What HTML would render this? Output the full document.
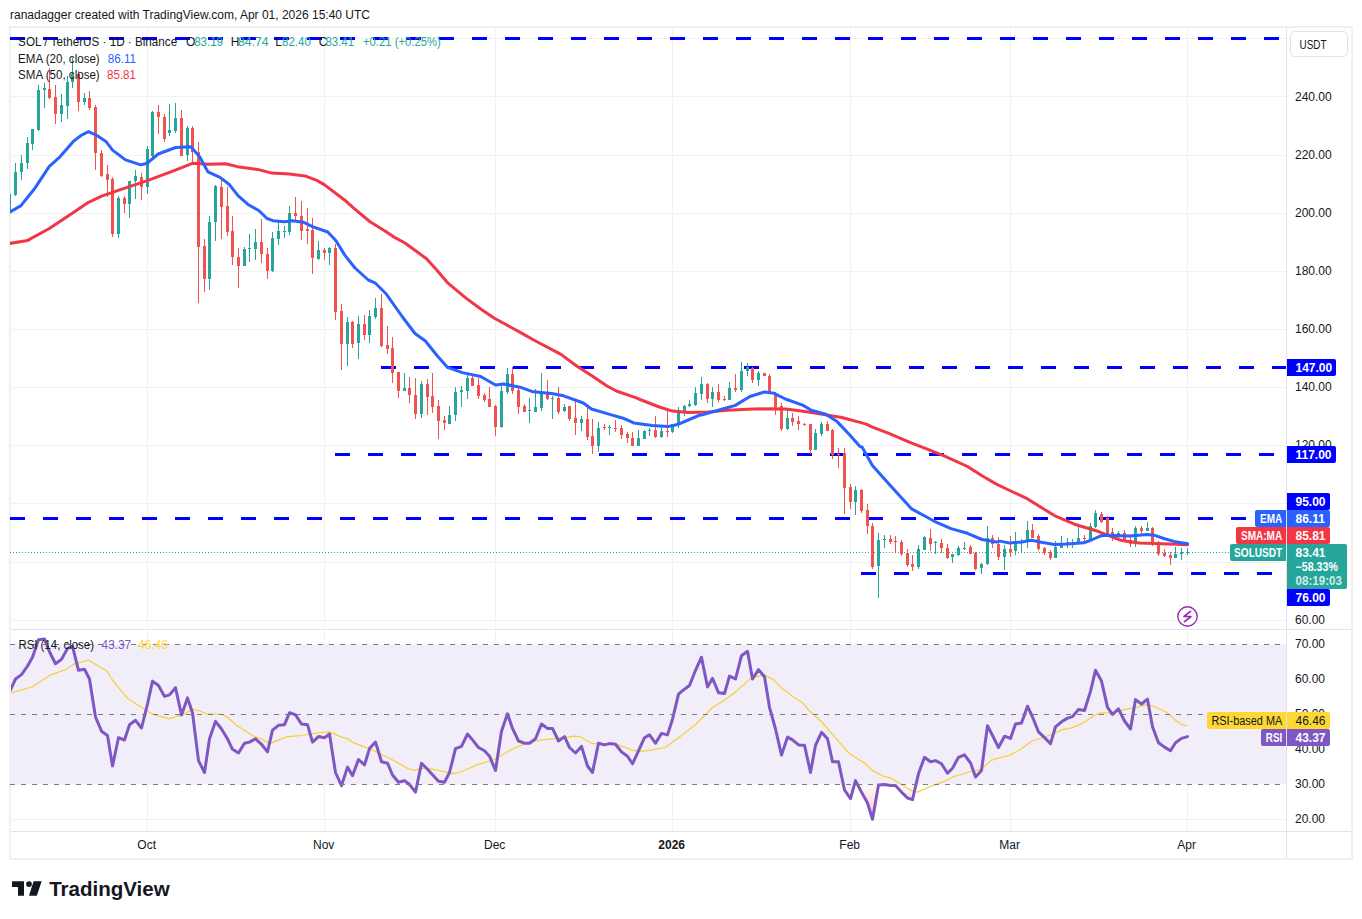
<!DOCTYPE html><html><head><meta charset="utf-8"><style>html,body{margin:0;padding:0;background:#fff;}body{width:1362px;height:919px;overflow:hidden;position:relative;}svg text{font-family:"Liberation Sans",sans-serif;}</style></head><body>
<svg width="1362" height="919" viewBox="0 0 1362 919" style="position:absolute;left:0;top:0">
<defs><clipPath id="main"><rect x="10" y="28" width="1276" height="601"/></clipPath><clipPath id="rsi"><rect x="11" y="630" width="1275" height="201"/></clipPath><clipPath id="below30"><rect x="10" y="784.4" width="1276" height="50"/></clipPath><linearGradient id="osg" gradientUnits="userSpaceOnUse" x1="0" y1="784.4" x2="0" y2="819.4"><stop offset="0" stop-color="#ff5252" stop-opacity="0.03"/><stop offset="1" stop-color="#ff5252" stop-opacity="0.32"/></linearGradient></defs>
<text x="10" y="19" font-size="12" fill="#131722">ranadagger created with TradingView.com, Apr 01, 2026 15:40 UTC</text>
<rect x="10" y="644.4" width="1276" height="140" fill="#7e57c2" fill-opacity="0.1"/>
<path d="M10 620.5H1286M10 562.5H1286M10 503.5H1286M10 445.5H1286M10 387.5H1286M10 329.5H1286M10 271.5H1286M10 213.5H1286M10 155.5H1286M10 96.5H1286M10 38.5H1286M10 679.5H1286M10 749.5H1286M10 819.5H1286M147.5 27V630M147.5 631V831M324.5 27V630M324.5 631V831M495.5 27V630M495.5 631V831M672.5 27V630M672.5 631V831M850.5 27V630M850.5 631V831M1010.5 27V630M1010.5 631V831M1187.5 27V630M1187.5 631V831" stroke="#eff2f1" stroke-width="1" fill="none"/>
<path d="M10 27H1352V859H10Z" stroke="#f0f0f0" stroke-width="2" fill="none"/>
<path d="M1286.5 28V858 M11 629.5H1351 M11 831.5H1351" stroke="#e0e3eb" stroke-width="1" fill="none"/>
<path d="M10 38.5H1286" stroke="#0000ff" stroke-width="3" stroke-dasharray="15 18" fill="none" clip-path="url(#main)"/>
<path d="M381 367.5H1286" stroke="#0000ff" stroke-width="3" stroke-dasharray="15 18" fill="none" clip-path="url(#main)"/>
<path d="M335 454.5H1286" stroke="#0000ff" stroke-width="3" stroke-dasharray="15 18" fill="none" clip-path="url(#main)"/>
<path d="M10 518.5H1286" stroke="#0000ff" stroke-width="3" stroke-dasharray="15 18" fill="none" clip-path="url(#main)"/>
<path d="M861 573.5H1286" stroke="#0000ff" stroke-width="3" stroke-dasharray="15 18" fill="none" clip-path="url(#main)"/>
<path d="M10 552.5H1230" stroke="#26a69a" stroke-width="1" stroke-dasharray="1 2" fill="none"/>
<g clip-path="url(#main)"><path d="M8 194h3v19h-3ZM9 194h1v19h-1ZM14 172h3v23h-3ZM15 163h1v33h-1ZM20 163h3v9h-3ZM21 155h1v25h-1ZM26 143h3v20h-3ZM27 137h1v32h-1ZM31 129h3v15h-3ZM32 129h1v21h-1ZM37 90h3v40h-3ZM38 85h1v46h-1ZM43 88h3v2h-3ZM44 83h1v25h-1ZM60 105h3v9h-3ZM61 94h1v28h-1ZM66 82h3v24h-3ZM67 76h1v43h-1ZM71 74h3v8h-3ZM72 58h1v30h-1ZM83 98h3v4h-3ZM84 93h1v12h-1ZM117 198h3v36h-3ZM118 196h1v42h-1ZM128 181h3v23h-3ZM129 181h1v37h-1ZM134 176h3v5h-3ZM135 170h1v29h-1ZM146 149h3v38h-3ZM147 146h1v48h-1ZM151 112h3v44h-3ZM152 111h1v46h-1ZM168 130h3v3h-3ZM169 104h1v32h-1ZM174 118h3v13h-3ZM175 103h1v30h-1ZM186 128h3v27h-3ZM187 126h1v35h-1ZM208 222h3v57h-3ZM209 216h1v74h-1ZM214 186h3v36h-3ZM215 185h1v56h-1ZM243 249h3v17h-3ZM244 247h1v19h-1ZM248 248h3v1h-3ZM249 234h1v28h-1ZM254 242h3v7h-3ZM255 229h1v31h-1ZM271 238h3v33h-3ZM272 232h1v40h-1ZM277 231h3v8h-3ZM278 221h1v24h-1ZM283 231h3v1h-3ZM284 226h1v12h-1ZM288 213h3v19h-3ZM289 206h1v29h-1ZM317 250h3v9h-3ZM318 241h1v19h-1ZM328 248h3v5h-3ZM329 247h1v18h-1ZM346 322h3v22h-3ZM347 317h1v49h-1ZM357 324h3v19h-3ZM358 316h1v43h-1ZM368 316h3v19h-3ZM369 310h1v33h-1ZM374 308h3v9h-3ZM375 298h1v21h-1ZM403 388h3v3h-3ZM404 373h1v18h-1ZM420 384h3v30h-3ZM421 381h1v37h-1ZM448 415h3v9h-3ZM449 406h1v18h-1ZM454 392h3v23h-3ZM455 387h1v34h-1ZM460 390h3v2h-3ZM461 386h1v21h-1ZM466 378h3v13h-3ZM467 374h1v25h-1ZM500 391h3v36h-3ZM501 386h1v42h-1ZM506 374h3v18h-3ZM507 368h1v26h-1ZM528 410h3v1h-3ZM529 398h1v25h-1ZM534 407h3v5h-3ZM535 389h1v23h-1ZM540 392h3v16h-3ZM541 373h1v38h-1ZM551 398h3v1h-3ZM552 396h1v23h-1ZM563 407h3v4h-3ZM564 404h1v8h-1ZM580 419h3v4h-3ZM581 416h1v15h-1ZM597 428h3v18h-3ZM598 422h1v30h-1ZM608 427h3v1h-3ZM609 425h1v10h-1ZM637 438h3v8h-3ZM638 430h1v16h-1ZM643 431h3v8h-3ZM644 430h1v9h-1ZM648 430h3v1h-3ZM649 428h1v8h-1ZM660 431h3v6h-3ZM661 426h1v12h-1ZM671 424h3v8h-3ZM672 424h1v9h-1ZM677 410h3v15h-3ZM678 407h1v21h-1ZM683 406h3v6h-3ZM684 405h1v11h-1ZM688 404h3v2h-3ZM689 400h1v7h-1ZM694 393h3v12h-3ZM695 387h1v19h-1ZM700 384h3v10h-3ZM701 377h1v23h-1ZM711 392h3v7h-3ZM712 387h1v20h-1ZM728 388h3v12h-3ZM729 382h1v18h-1ZM740 371h3v19h-3ZM741 362h1v30h-1ZM746 367h3v4h-3ZM747 363h1v13h-1ZM757 373h3v7h-3ZM758 371h1v15h-1ZM786 418h3v11h-3ZM787 410h1v20h-1ZM814 433h3v17h-3ZM815 429h1v21h-1ZM820 424h3v10h-3ZM821 422h1v14h-1ZM854 490h3v12h-3ZM855 486h1v29h-1ZM877 540h3v26h-3ZM878 533h1v65h-1ZM883 539h3v1h-3ZM884 535h1v13h-1ZM917 549h3v18h-3ZM918 545h1v24h-1ZM923 537h3v13h-3ZM924 536h1v14h-1ZM934 542h3v1h-3ZM935 541h1v13h-1ZM951 554h3v3h-3ZM952 554h1v9h-1ZM957 548h3v7h-3ZM958 546h1v10h-1ZM963 548h3v1h-3ZM964 542h1v8h-1ZM980 564h3v4h-3ZM981 563h1v11h-1ZM986 538h3v26h-3ZM987 526h1v39h-1ZM1003 549h3v8h-3ZM1004 545h1v25h-1ZM1014 542h3v9h-3ZM1015 532h1v23h-1ZM1020 542h3v1h-3ZM1021 539h1v13h-1ZM1026 530h3v12h-3ZM1027 521h1v27h-1ZM1054 547h3v11h-3ZM1055 541h1v17h-1ZM1060 543h3v5h-3ZM1061 536h1v12h-1ZM1066 542h3v2h-3ZM1067 538h1v10h-1ZM1071 543h3v1h-3ZM1072 539h1v9h-1ZM1077 538h3v5h-3ZM1078 524h1v19h-1ZM1089 526h3v13h-3ZM1090 523h1v17h-1ZM1094 513h3v14h-3ZM1095 510h1v18h-1ZM1117 533h3v4h-3ZM1118 531h1v7h-1ZM1134 528h3v16h-3ZM1135 526h1v21h-1ZM1146 528h3v3h-3ZM1147 522h1v9h-1ZM1174 554h3v4h-3ZM1175 547h1v11h-1ZM1180 552h3v2h-3ZM1181 548h1v12h-1ZM1186 552h3v1h-3ZM1187 548h1v7h-1Z" fill="#26a69a"/><path d="M48 89h3v9h-3ZM49 68h1v31h-1ZM54 97h3v17h-3ZM55 85h1v39h-1ZM77 74h3v28h-3ZM78 71h1v40h-1ZM88 98h3v10h-3ZM89 91h1v19h-1ZM94 107h3v46h-3ZM95 105h1v65h-1ZM100 153h3v23h-3ZM101 150h1v27h-1ZM106 174h3v6h-3ZM107 165h1v32h-1ZM111 179h3v55h-3ZM112 177h1v60h-1ZM123 198h3v6h-3ZM124 196h1v17h-1ZM140 177h3v10h-3ZM141 173h1v27h-1ZM157 112h3v5h-3ZM158 105h1v29h-1ZM163 117h3v22h-3ZM164 114h1v28h-1ZM180 118h3v38h-3ZM181 110h1v46h-1ZM191 128h3v24h-3ZM192 126h1v36h-1ZM197 152h3v95h-3ZM198 142h1v161h-1ZM203 246h3v33h-3ZM204 239h1v53h-1ZM220 187h3v20h-3ZM221 180h1v59h-1ZM226 206h3v26h-3ZM227 187h1v49h-1ZM231 231h3v26h-3ZM232 216h1v49h-1ZM237 257h3v9h-3ZM238 248h1v40h-1ZM260 242h3v12h-3ZM261 219h1v44h-1ZM266 254h3v17h-3ZM267 248h1v31h-1ZM294 213h3v3h-3ZM295 197h1v23h-1ZM300 216h3v15h-3ZM301 201h1v39h-1ZM306 229h3v2h-3ZM307 208h1v36h-1ZM311 230h3v28h-3ZM312 218h1v56h-1ZM323 250h3v3h-3ZM324 248h1v12h-1ZM334 248h3v64h-3ZM335 244h1v76h-1ZM340 311h3v33h-3ZM341 304h1v66h-1ZM351 322h3v22h-3ZM352 321h1v27h-1ZM363 324h3v11h-3ZM364 315h1v25h-1ZM380 308h3v38h-3ZM381 294h1v53h-1ZM386 345h3v4h-3ZM387 326h1v28h-1ZM391 348h3v25h-3ZM392 337h1v46h-1ZM397 372h3v19h-3ZM398 372h1v26h-1ZM408 388h3v7h-3ZM409 377h1v26h-1ZM414 395h3v19h-3ZM415 378h1v41h-1ZM426 384h3v13h-3ZM427 379h1v36h-1ZM431 396h3v11h-3ZM432 373h1v40h-1ZM437 406h3v15h-3ZM438 400h1v39h-1ZM443 420h3v3h-3ZM444 416h1v14h-1ZM471 378h3v8h-3ZM472 375h1v11h-1ZM477 385h3v11h-3ZM478 378h1v21h-1ZM483 395h3v5h-3ZM484 393h1v9h-1ZM488 399h3v8h-3ZM489 387h1v20h-1ZM494 406h3v21h-3ZM495 405h1v31h-1ZM511 374h3v17h-3ZM512 367h1v27h-1ZM517 390h3v17h-3ZM518 386h1v28h-1ZM523 406h3v6h-3ZM524 404h1v8h-1ZM546 392h3v7h-3ZM547 380h1v20h-1ZM557 398h3v14h-3ZM558 387h1v27h-1ZM568 406h3v13h-3ZM569 406h1v15h-1ZM574 418h3v5h-3ZM575 399h1v36h-1ZM586 419h3v18h-3ZM587 405h1v35h-1ZM591 436h3v10h-3ZM592 419h1v35h-1ZM603 427h3v1h-3ZM604 424h1v6h-1ZM614 428h3v1h-3ZM615 420h1v12h-1ZM620 428h3v7h-3ZM621 425h1v14h-1ZM626 434h3v4h-3ZM627 432h1v11h-1ZM631 438h3v8h-3ZM632 432h1v14h-1ZM654 430h3v7h-3ZM655 416h1v22h-1ZM666 431h3v1h-3ZM667 410h1v27h-1ZM706 384h3v15h-3ZM707 383h1v20h-1ZM717 392h3v8h-3ZM718 384h1v18h-1ZM723 399h3v1h-3ZM724 396h1v5h-1ZM734 388h3v2h-3ZM735 374h1v18h-1ZM751 368h3v12h-3ZM752 367h1v16h-1ZM763 373h3v3h-3ZM764 373h1v3h-1ZM768 376h3v18h-3ZM769 374h1v20h-1ZM774 393h3v14h-3ZM775 392h1v23h-1ZM780 406h3v23h-3ZM781 403h1v28h-1ZM791 418h3v4h-3ZM792 413h1v13h-1ZM797 421h3v3h-3ZM798 416h1v14h-1ZM803 424h3v1h-3ZM804 423h1v3h-1ZM809 424h3v26h-3ZM810 424h1v30h-1ZM826 424h3v7h-3ZM827 421h1v10h-1ZM831 430h3v25h-3ZM832 429h1v30h-1ZM837 454h3v1h-3ZM838 448h1v20h-1ZM843 453h3v35h-3ZM844 448h1v66h-1ZM849 487h3v15h-3ZM850 484h1v25h-1ZM860 490h3v21h-3ZM861 489h1v24h-1ZM866 510h3v16h-3ZM867 504h1v30h-1ZM871 526h3v41h-3ZM872 523h1v46h-1ZM889 539h3v3h-3ZM890 535h1v9h-1ZM894 541h3v1h-3ZM895 536h1v16h-1ZM900 542h3v12h-3ZM901 540h1v16h-1ZM906 553h3v12h-3ZM907 549h1v18h-1ZM911 564h3v3h-3ZM912 555h1v16h-1ZM929 538h3v6h-3ZM930 529h1v22h-1ZM940 543h3v5h-3ZM941 539h1v14h-1ZM946 548h3v10h-3ZM947 544h1v15h-1ZM969 547h3v7h-3ZM970 545h1v9h-1ZM974 553h3v16h-3ZM975 552h1v18h-1ZM991 538h3v6h-3ZM992 535h1v13h-1ZM997 544h3v13h-3ZM998 537h1v23h-1ZM1009 549h3v3h-3ZM1010 536h1v21h-1ZM1031 530h3v8h-3ZM1032 524h1v14h-1ZM1037 536h3v13h-3ZM1038 534h1v17h-1ZM1043 548h3v5h-3ZM1044 547h1v8h-1ZM1049 552h3v6h-3ZM1050 550h1v10h-1ZM1083 538h3v1h-3ZM1084 535h1v8h-1ZM1100 514h3v8h-3ZM1101 512h1v11h-1ZM1106 518h3v16h-3ZM1107 516h1v20h-1ZM1111 532h3v6h-3ZM1112 528h1v13h-1ZM1123 533h3v7h-3ZM1124 530h1v11h-1ZM1129 540h3v4h-3ZM1130 535h1v12h-1ZM1140 528h3v3h-3ZM1141 526h1v10h-1ZM1151 528h3v16h-3ZM1152 527h1v19h-1ZM1157 542h3v12h-3ZM1158 541h1v15h-1ZM1163 553h3v3h-3ZM1164 549h1v8h-1ZM1169 555h3v3h-3ZM1170 552h1v13h-1Z" fill="#ef5350"/></g>
<g clip-path="url(#main)"><path d="M8.0 243.7 L27.6 240.4 L49.3 228.5 L68.9 215.4 L88.5 202.3 L101.6 196.2 L121.2 189.3 L147.3 180.6 L173.4 170.8 L193.0 163.2 L208.0 164.3 L225.7 163.7 L239.4 167.1 L257.7 169.4 L271.8 173.1 L289.4 173.9 L305.0 175.9 L316.8 180.4 L324.6 184.9 L346.2 201.3 L354.0 208.4 L369.7 221.5 L385.4 231.3 L393.2 236.6 L405.0 243.0 L426.5 258.7 L436.3 269.5 L448.0 283.2 L465.7 297.9 L480.7 309.0 L494.4 318.3 L510.4 327.0 L522.0 333.4 L533.7 340.0 L561.0 354.4 L577.0 366.2 L593.0 376.5 L607.0 386.0 L616.4 391.0 L637.0 398.2 L640.0 399.5 L659.4 407.0 L672.3 411.1 L688.5 412.4 L707.9 411.9 L727.2 410.3 L753.1 409.1 L772.5 408.7 L785.4 409.1 L801.5 411.1 L817.7 413.5 L841.9 417.5 L860.0 422.4 L866.2 424.1 L872.4 427.2 L888.9 433.4 L911.7 443.2 L924.1 447.9 L944.7 456.2 L967.5 466.5 L982.0 475.8 L996.4 484.1 L1008.7 490.0 L1027.2 498.7 L1054.4 515.6 L1076.2 524.8 L1097.9 531.3 L1108.8 535.7 L1120.0 540.0 L1124.7 541.0 L1139.4 542.9 L1154.0 543.4 L1168.8 544.0 L1187.6 544.8" stroke="#f23645" stroke-width="3" fill="none" stroke-linejoin="round" stroke-linecap="round"/>
<path d="M8.0 213.2 L21.0 205.6 L34.1 189.3 L49.3 166.4 L60.2 156.6 L73.3 141.4 L81.0 135.5 L88.5 131.6 L97.0 135.5 L105.9 141.4 L112.5 150.1 L125.5 159.9 L140.8 164.9 L147.3 163.2 L158.2 154.0 L175.6 147.5 L190.8 146.8 L199.5 156.6 L208.0 171.9 L220.0 177.4 L229.0 184.2 L238.0 195.7 L248.5 204.8 L258.8 210.5 L267.0 218.5 L273.0 220.7 L284.4 221.8 L292.4 220.7 L303.8 222.3 L313.0 226.8 L327.8 232.0 L335.8 240.5 L345.0 255.4 L355.0 268.0 L368.3 280.0 L375.0 282.8 L386.5 294.3 L402.5 317.0 L415.0 333.5 L425.4 341.0 L437.0 355.5 L447.6 367.4 L462.4 372.6 L480.7 376.5 L495.5 385.0 L503.5 384.0 L520.0 387.2 L533.2 391.8 L551.7 393.5 L563.6 395.8 L583.4 403.0 L591.4 409.0 L607.2 413.6 L623.1 418.2 L633.7 422.9 L652.2 425.5 L668.0 426.6 L678.6 424.2 L700.0 415.0 L701.4 415.1 L720.8 409.5 L735.3 405.4 L749.9 396.5 L764.4 392.0 L774.1 393.3 L785.4 399.0 L803.2 405.4 L811.2 410.3 L825.8 414.3 L837.1 421.6 L850.0 435.3 L860.0 446.6 L862.0 446.9 L872.4 465.5 L888.9 484.1 L911.7 508.9 L934.4 521.3 L951.0 528.6 L967.5 533.3 L982.0 539.5 L996.4 542.0 L1000.0 541.1 L1009.8 543.1 L1021.8 542.0 L1031.6 540.3 L1041.3 542.2 L1054.4 544.4 L1067.5 543.9 L1083.8 542.8 L1092.5 539.5 L1101.2 535.7 L1108.8 535.2 L1120.0 535.7 L1129.6 536.0 L1147.2 534.6 L1154.0 535.2 L1163.9 538.5 L1173.7 541.4 L1187.6 543.7" stroke="#2962ff" stroke-width="3" fill="none" stroke-linejoin="round" stroke-linecap="round"/></g>
<path d="M9.5 784.4 L9.5 692.0 L15.5 679.0 L21.5 674.6 L27.5 666.0 L32.5 657.2 L38.5 639.8 L44.5 639.1 L49.5 651.8 L55.5 663.7 L61.5 659.4 L67.5 648.5 L72.5 646.3 L78.5 670.3 L84.5 669.2 L89.5 679.0 L95.5 717.0 L101.5 731.2 L107.5 735.5 L112.5 766.0 L118.5 737.7 L124.5 740.0 L129.5 724.7 L135.5 720.3 L141.5 728.0 L147.5 704.0 L152.5 681.1 L158.5 685.5 L164.5 696.4 L169.5 694.9 L175.5 687.7 L181.5 714.9 L187.5 697.9 L192.5 712.7 L198.5 760.6 L204.5 772.5 L209.5 738.8 L215.5 721.4 L221.5 729.0 L227.5 738.8 L232.5 749.3 L238.5 753.0 L244.5 743.2 L249.5 742.1 L255.5 738.8 L261.5 744.3 L267.5 751.9 L272.5 730.1 L278.5 725.3 L284.5 724.7 L289.5 712.7 L295.5 714.9 L301.5 724.0 L307.5 724.7 L312.5 742.1 L318.5 736.6 L324.5 737.7 L329.5 734.0 L335.5 772.5 L341.5 785.6 L347.5 767.1 L352.5 775.8 L358.5 759.5 L364.5 764.9 L369.5 748.6 L375.5 742.1 L381.5 761.7 L387.5 763.2 L392.5 775.0 L398.5 782.3 L404.5 780.6 L409.5 784.5 L415.5 792.1 L421.5 763.2 L427.5 769.3 L432.5 774.7 L438.5 781.2 L444.5 782.3 L449.5 772.5 L455.5 748.6 L461.5 746.4 L467.5 734.0 L472.5 739.9 L478.5 747.5 L484.5 750.8 L489.5 756.2 L495.5 770.4 L501.5 731.2 L507.5 713.8 L512.5 728.4 L518.5 741.0 L524.5 743.2 L529.5 743.2 L535.5 738.8 L541.5 724.0 L547.5 728.4 L552.5 728.4 L558.5 741.0 L564.5 736.6 L569.5 747.5 L575.5 753.0 L581.5 746.4 L587.5 766.0 L592.5 772.5 L598.5 743.2 L604.5 744.9 L609.5 743.6 L615.5 744.3 L621.5 751.9 L627.5 756.2 L632.5 763.8 L638.5 750.8 L644.5 737.7 L649.5 734.9 L655.5 743.2 L661.5 733.4 L667.5 734.9 L672.5 719.2 L678.5 694.2 L684.5 689.2 L689.5 685.5 L695.5 670.3 L701.5 657.2 L707.5 687.0 L712.5 678.3 L718.5 692.7 L724.5 693.5 L729.5 676.1 L735.5 679.0 L741.5 655.7 L747.5 651.3 L752.5 679.0 L758.5 669.6 L764.5 676.8 L769.5 707.3 L775.5 729.0 L781.5 755.1 L787.5 737.1 L792.5 739.9 L798.5 744.9 L804.5 745.3 L810.5 772.5 L815.5 745.3 L821.5 732.3 L827.5 738.8 L832.5 761.7 L838.5 761.7 L844.5 790.0 L850.5 798.7 L855.5 780.6 L861.5 792.1 L867.5 803.0 L872.5 819.3 L878.5 785.0 L884.5 784.5 L890.5 785.6 L895.5 785.6 L901.5 792.1 L907.5 798.0 L912.5 799.7 L918.5 773.6 L924.5 757.3 L930.5 761.7 L935.5 760.6 L941.5 763.8 L947.5 773.2 L952.5 768.2 L958.5 757.3 L964.5 754.8 L970.5 762.8 L975.5 776.9 L981.5 770.4 L987.5 725.8 L992.5 735.5 L998.5 747.5 L1004.5 736.2 L1010.5 738.4 L1015.5 724.0 L1021.5 723.1 L1027.5 706.2 L1032.5 717.0 L1038.5 731.9 L1044.5 737.7 L1050.5 743.6 L1055.5 726.8 L1061.5 721.8 L1067.5 718.1 L1072.5 716.6 L1078.5 709.4 L1084.5 710.5 L1090.5 691.4 L1095.5 670.3 L1101.5 681.1 L1107.5 707.3 L1112.5 714.4 L1118.5 708.8 L1124.5 721.0 L1130.5 729.0 L1135.5 699.6 L1141.5 704.0 L1147.5 699.2 L1152.5 726.8 L1158.5 742.7 L1164.5 747.1 L1170.5 750.8 L1175.5 742.7 L1181.5 738.4 L1187.5 736.6 L1187.5 784.4Z" fill="url(#osg)" clip-path="url(#below30)"/>
<g clip-path="url(#rsi)"><path d="M10.4 693.1 L31.9 687.0 L51.5 674.6 L66.8 669.2 L73.3 664.4 L88.5 660.0 L107.0 671.3 L112.5 680.0 L127.7 698.6 L151.6 713.8 L169.0 718.8 L182.1 714.9 L193.0 709.4 L200.0 711.0 L206.5 713.8 L221.8 714.4 L227.2 717.0 L237.0 725.8 L254.4 736.6 L261.0 738.8 L269.6 743.6 L287.0 736.6 L302.3 735.5 L319.7 732.7 L329.5 731.9 L341.5 737.1 L348.0 738.8 L352.3 742.1 L374.1 750.8 L392.0 759.5 L407.4 768.2 L413.9 770.4 L422.6 768.2 L433.5 769.3 L453.1 773.6 L461.8 771.5 L477.0 764.9 L494.5 759.5 L511.9 749.3 L529.3 742.1 L542.3 739.9 L564.1 737.7 L575.0 736.2 L580.0 736.6 L592.0 743.6 L614.8 743.6 L632.2 750.1 L643.1 751.4 L664.9 747.5 L680.1 736.6 L695.3 724.7 L712.8 707.3 L723.6 700.7 L736.7 690.9 L751.9 677.4 L765.0 675.3 L773.7 679.6 L780.9 687.7 L786.3 691.4 L791.8 695.7 L802.6 702.9 L809.2 710.5 L822.2 722.5 L835.3 737.7 L849.4 753.6 L857.0 758.4 L863.6 762.3 L872.3 770.4 L883.2 776.2 L890.8 778.0 L900.6 784.1 L911.5 790.6 L917.6 792.1 L931.0 786.3 L946.3 780.6 L952.8 776.9 L960.0 774.7 L970.9 771.5 L980.7 769.7 L991.6 760.1 L1001.3 757.3 L1010.1 755.1 L1020.9 749.3 L1031.8 741.0 L1042.7 737.7 L1051.4 734.5 L1062.3 729.7 L1072.1 727.9 L1081.9 723.6 L1090.6 718.1 L1099.3 713.1 L1112.3 712.7 L1125.4 709.4 L1136.3 707.3 L1147.2 704.4 L1155.9 707.3 L1166.7 712.3 L1175.5 720.3 L1182.0 724.7 L1187.4 725.8" stroke="#f7cf33" stroke-width="1.2" fill="none" stroke-linejoin="round"/>
<path d="M9.5 692.0 L15.5 679.0 L21.5 674.6 L27.5 666.0 L32.5 657.2 L38.5 639.8 L44.5 639.1 L49.5 651.8 L55.5 663.7 L61.5 659.4 L67.5 648.5 L72.5 646.3 L78.5 670.3 L84.5 669.2 L89.5 679.0 L95.5 717.0 L101.5 731.2 L107.5 735.5 L112.5 766.0 L118.5 737.7 L124.5 740.0 L129.5 724.7 L135.5 720.3 L141.5 728.0 L147.5 704.0 L152.5 681.1 L158.5 685.5 L164.5 696.4 L169.5 694.9 L175.5 687.7 L181.5 714.9 L187.5 697.9 L192.5 712.7 L198.5 760.6 L204.5 772.5 L209.5 738.8 L215.5 721.4 L221.5 729.0 L227.5 738.8 L232.5 749.3 L238.5 753.0 L244.5 743.2 L249.5 742.1 L255.5 738.8 L261.5 744.3 L267.5 751.9 L272.5 730.1 L278.5 725.3 L284.5 724.7 L289.5 712.7 L295.5 714.9 L301.5 724.0 L307.5 724.7 L312.5 742.1 L318.5 736.6 L324.5 737.7 L329.5 734.0 L335.5 772.5 L341.5 785.6 L347.5 767.1 L352.5 775.8 L358.5 759.5 L364.5 764.9 L369.5 748.6 L375.5 742.1 L381.5 761.7 L387.5 763.2 L392.5 775.0 L398.5 782.3 L404.5 780.6 L409.5 784.5 L415.5 792.1 L421.5 763.2 L427.5 769.3 L432.5 774.7 L438.5 781.2 L444.5 782.3 L449.5 772.5 L455.5 748.6 L461.5 746.4 L467.5 734.0 L472.5 739.9 L478.5 747.5 L484.5 750.8 L489.5 756.2 L495.5 770.4 L501.5 731.2 L507.5 713.8 L512.5 728.4 L518.5 741.0 L524.5 743.2 L529.5 743.2 L535.5 738.8 L541.5 724.0 L547.5 728.4 L552.5 728.4 L558.5 741.0 L564.5 736.6 L569.5 747.5 L575.5 753.0 L581.5 746.4 L587.5 766.0 L592.5 772.5 L598.5 743.2 L604.5 744.9 L609.5 743.6 L615.5 744.3 L621.5 751.9 L627.5 756.2 L632.5 763.8 L638.5 750.8 L644.5 737.7 L649.5 734.9 L655.5 743.2 L661.5 733.4 L667.5 734.9 L672.5 719.2 L678.5 694.2 L684.5 689.2 L689.5 685.5 L695.5 670.3 L701.5 657.2 L707.5 687.0 L712.5 678.3 L718.5 692.7 L724.5 693.5 L729.5 676.1 L735.5 679.0 L741.5 655.7 L747.5 651.3 L752.5 679.0 L758.5 669.6 L764.5 676.8 L769.5 707.3 L775.5 729.0 L781.5 755.1 L787.5 737.1 L792.5 739.9 L798.5 744.9 L804.5 745.3 L810.5 772.5 L815.5 745.3 L821.5 732.3 L827.5 738.8 L832.5 761.7 L838.5 761.7 L844.5 790.0 L850.5 798.7 L855.5 780.6 L861.5 792.1 L867.5 803.0 L872.5 819.3 L878.5 785.0 L884.5 784.5 L890.5 785.6 L895.5 785.6 L901.5 792.1 L907.5 798.0 L912.5 799.7 L918.5 773.6 L924.5 757.3 L930.5 761.7 L935.5 760.6 L941.5 763.8 L947.5 773.2 L952.5 768.2 L958.5 757.3 L964.5 754.8 L970.5 762.8 L975.5 776.9 L981.5 770.4 L987.5 725.8 L992.5 735.5 L998.5 747.5 L1004.5 736.2 L1010.5 738.4 L1015.5 724.0 L1021.5 723.1 L1027.5 706.2 L1032.5 717.0 L1038.5 731.9 L1044.5 737.7 L1050.5 743.6 L1055.5 726.8 L1061.5 721.8 L1067.5 718.1 L1072.5 716.6 L1078.5 709.4 L1084.5 710.5 L1090.5 691.4 L1095.5 670.3 L1101.5 681.1 L1107.5 707.3 L1112.5 714.4 L1118.5 708.8 L1124.5 721.0 L1130.5 729.0 L1135.5 699.6 L1141.5 704.0 L1147.5 699.2 L1152.5 726.8 L1158.5 742.7 L1164.5 747.1 L1170.5 750.8 L1175.5 742.7 L1181.5 738.4 L1187.5 736.6" stroke="#7e57c2" stroke-width="3" fill="none" stroke-linejoin="round" stroke-linecap="round"/></g>
<path d="M10 644.5H1286" stroke="#787b86" stroke-width="1" stroke-dasharray="5 6" fill="none"/>
<path d="M10 714.5H1286" stroke="#787b86" stroke-width="1" stroke-dasharray="5 6" fill="none"/>
<path d="M10 784.5H1286" stroke="#787b86" stroke-width="1" stroke-dasharray="5 6" fill="none"/>
<text x="18.1" y="46.2" font-size="12" fill="#131722" textLength="159.1" lengthAdjust="spacingAndGlyphs" >SOL / TetherUS · 1D · Binance</text>
<text x="186" y="46.2" font-size="12" fill="#131722" >O</text>
<text x="194.2" y="46.2" font-size="12" fill="#26a69a" textLength="28.8" lengthAdjust="spacingAndGlyphs" >83.19</text>
<text x="230.7" y="46.2" font-size="12" fill="#131722" >H</text>
<text x="238" y="46.2" font-size="12" fill="#26a69a" textLength="30.6" lengthAdjust="spacingAndGlyphs" >84.74</text>
<text x="275.3" y="46.2" font-size="12" fill="#131722" >L</text>
<text x="282" y="46.2" font-size="12" fill="#26a69a" textLength="28.8" lengthAdjust="spacingAndGlyphs" >82.40</text>
<text x="318.8" y="46.2" font-size="12" fill="#131722" >C</text>
<text x="325.5" y="46.2" font-size="12" fill="#26a69a" textLength="28.5" lengthAdjust="spacingAndGlyphs" >83.41</text>
<text x="363" y="46.2" font-size="12" fill="#26a69a" textLength="77.8" lengthAdjust="spacingAndGlyphs" >+0.21 (+0.25%)</text>
<text x="18.1" y="63.1" font-size="12" fill="#131722" textLength="81.6" lengthAdjust="spacingAndGlyphs" >EMA (20, close)</text>
<text x="107.7" y="63.1" font-size="12" fill="#2962ff" textLength="28.3" lengthAdjust="spacingAndGlyphs" >86.11</text>
<text x="18.1" y="79.3" font-size="12" fill="#131722" textLength="81.6" lengthAdjust="spacingAndGlyphs" >SMA (50, close)</text>
<text x="107" y="79.3" font-size="12" fill="#f23645" textLength="29" lengthAdjust="spacingAndGlyphs" >85.81</text>
<text x="18.4" y="648.5" font-size="12" fill="#131722" textLength="75.6" lengthAdjust="spacingAndGlyphs" >RSI (14, close)</text>
<text x="101.6" y="648.5" font-size="12" fill="#7e57c2" textLength="29.4" lengthAdjust="spacingAndGlyphs" >43.37</text>
<text x="138" y="648.5" font-size="12" fill="#fdd835" textLength="30" lengthAdjust="spacingAndGlyphs" >46.46</text>
<text x="1295" y="100.8" font-size="12" fill="#131722">240.00</text>
<text x="1295" y="158.8" font-size="12" fill="#131722">220.00</text>
<text x="1295" y="216.8" font-size="12" fill="#131722">200.00</text>
<text x="1295" y="274.8" font-size="12" fill="#131722">180.00</text>
<text x="1295" y="332.8" font-size="12" fill="#131722">160.00</text>
<text x="1295" y="390.8" font-size="12" fill="#131722">140.00</text>
<text x="1295" y="448.8" font-size="12" fill="#131722">120.00</text>
<text x="1295" y="623.8" font-size="12" fill="#131722">60.00</text>
<text x="1295" y="647.7" font-size="12" fill="#131722">70.00</text>
<text x="1295" y="682.7" font-size="12" fill="#131722">60.00</text>
<text x="1295" y="717.7" font-size="12" fill="#131722">50.00</text>
<text x="1295" y="752.7" font-size="12" fill="#131722">40.00</text>
<text x="1295" y="787.7" font-size="12" fill="#131722">30.00</text>
<text x="1295" y="822.7" font-size="12" fill="#131722">20.00</text>
<rect x="1290.5" y="31.5" width="57" height="25" rx="4" fill="#fff" stroke="#e0e3eb"/>
<text x="1299.6" y="49" font-size="12" fill="#131722" textLength="26.9" lengthAdjust="spacingAndGlyphs" >USDT</text>
<path d="M1287 359H1334Q1336 359 1336 361V374Q1336 376 1334 376H1287Z" fill="#0000ff"/>
<text x="1295.5" y="371.8" font-size="12" fill="#fff" font-weight="bold">147.00</text>
<path d="M1287 446H1334Q1336 446 1336 448V461Q1336 463 1334 463H1287Z" fill="#0000ff"/>
<text x="1295.5" y="458.8" font-size="12" fill="#fff" font-weight="bold">117.00</text>
<path d="M1287 493H1328Q1330 493 1330 495V508Q1330 510 1328 510H1287Z" fill="#0000ff"/>
<text x="1295.5" y="505.8" font-size="12" fill="#fff" font-weight="bold">95.00</text>
<path d="M1287 510H1328Q1330 510 1330 512V525Q1330 527 1328 527H1287Z" fill="#2962ff"/>
<text x="1295.5" y="522.8" font-size="12" fill="#fff" font-weight="bold">86.11</text>
<path d="M1286 510H1257Q1255 510 1255 512V525Q1255 527 1257 527H1286Z" fill="#2962ff"/>
<text x="1260" y="522.8" font-size="12" fill="#fff" textLength="22.2" lengthAdjust="spacingAndGlyphs" font-weight="bold">EMA</text>
<path d="M1287 527H1328Q1330 527 1330 529V542Q1330 544 1328 544H1287Z" fill="#f23645"/>
<text x="1295.5" y="539.8" font-size="12" fill="#fff" font-weight="bold">85.81</text>
<path d="M1286 527H1238Q1236 527 1236 529V542Q1236 544 1238 544H1286Z" fill="#f23645"/>
<text x="1241" y="539.8" font-size="12" fill="#fff" textLength="41.2" lengthAdjust="spacingAndGlyphs" font-weight="bold">SMA:MA</text>
<path d="M1287 544H1345Q1347 544 1347 546V587Q1347 589 1345 589H1287Z" fill="#26a69a"/>
<text x="1295.5" y="556.8" font-size="12" fill="#fff" font-weight="bold">83.41</text>
<text x="1295.5" y="570.8" font-size="12" fill="#fff" font-weight="bold" textLength="42.4" lengthAdjust="spacingAndGlyphs">−58.33%</text>
<text x="1295.5" y="584.8" font-size="12" fill="#fff" fill-opacity="0.8" font-weight="bold" textLength="46.4" lengthAdjust="spacingAndGlyphs">08:19:03</text>
<path d="M1286 544H1232Q1230 544 1230 546V559Q1230 561 1232 561H1286Z" fill="#26a69a"/>
<text x="1234.1" y="556.8" font-size="12" fill="#fff" textLength="48.1" lengthAdjust="spacingAndGlyphs" font-weight="bold">SOLUSDT</text>
<path d="M1287 589H1328Q1330 589 1330 591V604Q1330 606 1328 606H1287Z" fill="#0000ff"/>
<text x="1295.5" y="601.8" font-size="12" fill="#fff" font-weight="bold">76.00</text>
<path d="M1287 712H1328Q1330 712 1330 714V727Q1330 729 1328 729H1287Z" fill="#fdd835"/>
<text x="1295.5" y="724.8" font-size="12" fill="#131722">46.46</text>
<path d="M1286 712H1209Q1207 712 1207 714V727Q1207 729 1209 729H1286Z" fill="#fdd835"/>
<text x="1211.5" y="724.8" font-size="12" fill="#131722" textLength="70.7" lengthAdjust="spacingAndGlyphs" >RSI-based MA</text>
<path d="M1287 729H1328Q1330 729 1330 731V744Q1330 746 1328 746H1287Z" fill="#7e57c2"/>
<text x="1295.5" y="741.8" font-size="12" fill="#fff" font-weight="bold">43.37</text>
<path d="M1286 729H1263Q1261 729 1261 731V744Q1261 746 1263 746H1286Z" fill="#7e57c2"/>
<text x="1265.8" y="741.8" font-size="12" fill="#fff" textLength="16.4" lengthAdjust="spacingAndGlyphs" font-weight="bold">RSI</text>
<text x="146.7" y="849" font-size="12" fill="#131722" text-anchor="middle" font-weight="normal">Oct</text>
<text x="323.7" y="849" font-size="12" fill="#131722" text-anchor="middle" font-weight="normal">Nov</text>
<text x="494.7" y="849" font-size="12" fill="#131722" text-anchor="middle" font-weight="normal">Dec</text>
<text x="671.7" y="849" font-size="12" fill="#131722" text-anchor="middle" font-weight="bold">2026</text>
<text x="849.7" y="849" font-size="12" fill="#131722" text-anchor="middle" font-weight="normal">Feb</text>
<text x="1009.7" y="849" font-size="12" fill="#131722" text-anchor="middle" font-weight="normal">Mar</text>
<text x="1186.7" y="849" font-size="12" fill="#131722" text-anchor="middle" font-weight="normal">Apr</text>
<circle cx="1187.5" cy="616.5" r="11.7" fill="#fff"/>
<circle cx="1187.5" cy="616.5" r="9.7" fill="#fff" stroke="#9c27b0" stroke-width="1.4"/>
<path d="M1190.5 611.3L1184 616.5H1191L1184.5 621.7" fill="none" stroke="#9c27b0" stroke-width="1.7" stroke-linejoin="round" stroke-linecap="round"/>
<path d="M12 881.2H24V895.8H18V887.1H12Z" fill="#131722"/>
<circle cx="29" cy="884.1" r="2.9" fill="#131722"/>
<path d="M33.6 881.2H41.7L36.8 895.8H29Z" fill="#131722"/>
<text x="49.2" y="895.8" font-size="21" font-weight="bold" fill="#131722" textLength="120.5" lengthAdjust="spacingAndGlyphs">TradingView</text>
</svg></body></html>
